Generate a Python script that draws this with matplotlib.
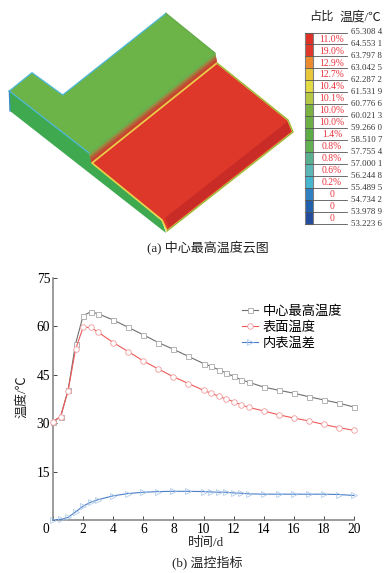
import numpy as np
from matplotlib import pyplot as plt
from matplotlib.patches import Polygon, Rectangle
from matplotlib.transforms import ScaledTranslation

plt.rcParams['font.family'] = ['Liberation Serif', 'Noto Sans CJK SC']

# chart data
days = [0, 0.5, 1, 1.5, 2, 2.5, 3, 4, 5, 6, 7, 8, 9, 10, 10.5, 11, 11.5, 12, 12.5, 13,
        14, 15, 16, 17, 18, 19, 20]
center_temp = [30.5, 32, 40.2, 54.6, 63.3, 64.5, 63.9, 62, 59.7, 57.4, 55, 52.9, 50.7,
               48.5, 47.6, 46.6, 45.6, 44.5, 43.5, 42.7,
               41.2, 40.2, 39.3, 38.2, 37.2, 36.2, 35]
surface_temp = [30.5, 32, 40, 52.9, 59.7, 59.7, 58.2, 55, 52.2, 49.3, 46.8, 44.4, 42.3,
                40.2, 39.3, 38.4, 37.5, 36.7, 35.7, 34.9,
                33.8, 32.6, 31.6, 30.7, 29.6, 28.6, 27.8]
temp_diff = [0, 0.2, 0.8, 2.5, 4.3, 5.5, 6.3, 7.5, 8.2, 8.6, 8.8, 8.9, 8.9,
             8.8, 8.7, 8.6, 8.6, 8.4, 8.3, 8.1,
             8, 8, 8, 8, 8, 7.9, 7.6]
series_names = ['中心最高温度', '表面温度', '内表温差']
x_ticks = [0, 2, 4, 6, 8, 10, 12, 14, 16, 18, 20]
y_ticks = [0, 15, 30, 45, 60, 75]

# contour legend
level_labels = ['65.308 4', '64.553 1', '63.797 8', '63.042 5', '62.287 2', '61.531 9',
                '60.776 6', '60.021 3', '59.266 0', '58.510 7', '57.755 4', '57.000 1',
                '56.244 8', '55.489 5', '54.734 2', '53.978 9', '53.223 6']
share_labels = ['11.0%', '19.0%', '12.9%', '12.7%', '10.4%', '10.1%', '10.0%', '10.0%',
                '1.4%', '0.8%', '0.8%', '0.6%', '0.2%', '0', '0', '0']
level_colors = ['#e03127', '#e0382a', '#ee8a2e', '#e8c83a', '#e4dc45', '#b6c843',
                '#7ab340', '#6cb044', '#5cad45', '#62b152', '#58b08f', '#5ab7b5',
                '#45b6cd', '#2f7fc1', '#2060ac', '#244c9c']

# model outline, in picture pixels
top_face = [(9.3, 91), (32, 72.7), (62.7, 95), (166, 13.3), (215, 53), (89, 153)]
side_face = [(9.3, 91), (89, 153), (92, 163), (162, 221), (166, 233), (10, 111)]
slope_top = [(89, 153), (215, 53)]
slope_bottom = [(92, 163), (217, 63)]
hot_face = [(92, 163), (217, 63), (288, 120), (293, 132), (167, 231), (162, 220)]
hot_strip = [(287, 122), (291, 131), (169, 227), (165, 218)]
slope_colors = ['#58ad48', '#6fa844', '#8a9a3e', '#9a843b', '#a5703a', '#b05f34',
                '#b8502f', '#c2452c', '#cc3a2a', '#d6382a']


def px(size):
    return size * 0.72


def draw_model(ax):
    ax.add_patch(Polygon(side_face, fc='#3fa950', ec='none'))
    ax.add_patch(Polygon(top_face, fc='#6cb348', ec='none'))
    ax.plot(*zip(*(top_face[:3] + [top_face[3]])), color='#4db8d8', lw=0.9)
    ax.plot([top_face[0][0], top_face[5][0]], [top_face[0][1], top_face[5][1]],
            color='#4db8d8', lw=0.9)
    ax.plot([side_face[0][0], side_face[5][0]], [side_face[0][1], side_face[5][1]],
            color='#3b8fc8', lw=0.9)
    ax.plot([top_face[3][0], top_face[4][0]], [top_face[3][1], top_face[4][1]],
            color='#5fa845', lw=0.8)

    # gradient on the slope next to the hot zone
    a0, a1 = np.array(slope_top[0]), np.array(slope_top[1])
    b0, b1 = np.array(slope_bottom[0]), np.array(slope_bottom[1])
    for i, c in enumerate(slope_colors):
        f0, f1 = i / len(slope_colors), (i + 1) / len(slope_colors)
        quad = [a0 + (b0 - a0) * f0, a1 + (b1 - a1) * f0, a1 + (b1 - a1) * f1, a0 + (b0 - a0) * f1]
        ax.add_patch(Polygon(quad, fc=c, ec=c, lw=0.4))

    ax.add_patch(Polygon(hot_face, fc='#dd3829', ec='#e8d34a', lw=1.2, joinstyle='round'))
    ax.add_patch(Polygon(hot_strip, fc='#c92c26', ec='none'))
    ax.plot(*zip(*hot_face[1:5]), color='#62b152', lw=0.5)


def draw_scale(ax):
    bar_x, bar_w, bar_y, cell = 305.5, 8, 32.5, 11.97
    for i, c in enumerate(level_colors):
        ax.add_patch(Rectangle((bar_x, bar_y + i * cell), bar_w, cell, fc=c, ec='none'))
    ax.add_patch(Rectangle((bar_x, bar_y), bar_w, cell * 16, fc='none', ec='#808080', lw=0.8))
    for i, lab in enumerate(level_labels):
        y = bar_y + i * cell
        ax.plot([bar_x, 347], [y, y], color='#555555', lw=0.6)
        ax.text(351, y, lab, fontsize=px(8.8), color='#333333', va='center', ha='left')
    for i, lab in enumerate(share_labels):
        ax.text(332, bar_y + (i + 0.55) * cell, lab, fontsize=px(9.6), color='#e8323c',
                va='center', ha='center')
    ax.text(309.5, 17, '占比', fontsize=px(12.2), va='center', ha='left', color='#222222')
    ax.text(339.5, 17, '温度/℃', fontsize=px(12.8), va='center', ha='left', color='#222222')


def draw_curves(fig):
    w, h = 392, 573
    ax = fig.add_axes([53 / w, 1 - 520 / h, 301 / w, 242 / h])
    ax.patch.set_alpha(0)
    ax.plot(days, center_temp, color='#707070', lw=0.8, marker='s', ms=3.6, mfc='white',
            mec='#a8a8a8', mew=0.6, clip_on=False, zorder=3, label=series_names[0])
    ax.plot(days, surface_temp, color='#ee5a5a', lw=0.8, marker='o', ms=4, mfc='white',
            mec='#f29a9a', mew=0.6, clip_on=False, zorder=4, label=series_names[1])
    ax.plot(days, temp_diff, color='#4a7fc8', lw=0.8, marker='>', ms=4, mfc='none',
            mec='#a5c4e8', mew=0.5, clip_on=False, zorder=3, label=series_names[2])

    ax.set_xlim(0, 20)
    ax.set_ylim(0, 75)
    ax.spines['top'].set_visible(False)
    ax.spines['right'].set_visible(False)
    ax.spines['left'].set_color('#808080')
    ax.spines['bottom'].set_color('#808080')
    ax.spines['left'].set_linewidth(1.1)
    ax.spines['bottom'].set_linewidth(1.1)

    ax.set_xticks(x_ticks)
    ax.set_yticks(y_ticks, [''] + [str(v) for v in y_ticks[1:]])
    ax.tick_params(direction='in', length=3, width=0.7, color='#444444', labelsize=px(13.5), pad=2)
    # the origin label sits left of the axis
    ax.get_xticklabels()[0].set_transform(
        ax.get_xticklabels()[0].get_transform() + ScaledTranslation(-7 / 100, 0, fig.dpi_scale_trans))

    ax.legend(loc='upper left', bbox_to_anchor=(0.627, 0.887), frameon=False, fontsize=px(13.2),
              handlelength=1.25, handletextpad=0.35, labelspacing=0.24,
              borderpad=0, borderaxespad=0)


def main():
    fig = plt.figure(figsize=(3.92, 5.73), dpi=100)
    bg = fig.add_axes([0, 0, 1, 1])
    bg.set_xlim(0, 392)
    bg.set_ylim(573, 0)
    bg.axis('off')

    draw_model(bg)
    draw_scale(bg)
    bg.text(207.5, 248, '(a) 中心最高温度云图', fontsize=px(13), ha='center', va='center', color='#222222')
    bg.text(207, 562, '(b) 温控指标', fontsize=px(13), ha='center', va='center', color='#222222')
    bg.text(206, 543, '时间/d', fontsize=px(13), ha='center', va='center', color='#222222')
    bg.text(22, 397, '温度/℃', fontsize=px(13), ha='center', va='center', rotation=90, color='#222222')

    draw_curves(fig)
    fig.savefig('out.png', dpi=100)


if __name__ == "__main__":
    main()
